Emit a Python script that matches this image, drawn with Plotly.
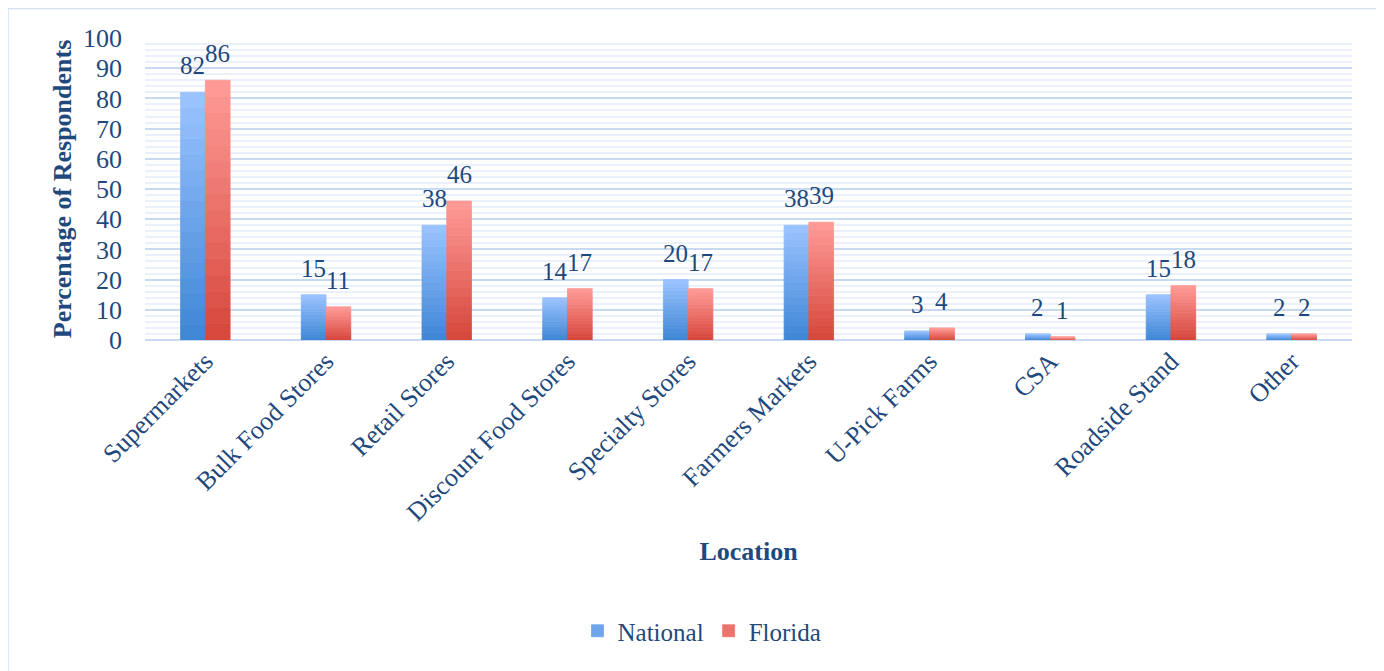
import plotly.graph_objects as go

categories = ["Supermarkets", "Bulk Food Stores", "Retail Stores", "Discount Food Stores",
              "Specialty Stores", "Farmers Markets", "U-Pick Farms", "CSA",
              "Roadside Stand", "Other"]
national = [82, 15, 38, 14, 20, 38, 3, 2, 15, 2]
florida = [86, 11, 46, 17, 17, 39, 4, 1, 18, 2]

TEXT = "#1F497D"
FONT = "Liberation Serif"
N = 16
BW = 0.205  # bar width in category units

# page body has an 8px margin, so the figure is shifted by 8px
W, H = 1376, 663
L, T = 137, 30
PW, PH = 1207, 302
cat_px = PW / len(categories)


def lerp(c1, c2, t):
    return "rgb(%d,%d,%d)" % tuple(round(a + (b - a) * t) for a, b in zip(c1, c2))


series = [
    ("National", national, (61, 133, 213), (156, 196, 255), -BW),
    ("Florida", florida, (214, 69, 58), (255, 156, 152), 0.0),
]

fig = go.Figure()
annotations = []
for name, vals, dark, light, off in series:
    for k in range(N):
        col = lerp(dark, light, (k + 0.5) / N)
        fig.add_trace(go.Bar(
            x=categories,
            y=[v / N for v in vals],
            base=[v * k / N for v in vals],
            width=BW,
            offset=off,
            name=name,
            legendgroup=name,
            showlegend=(k == N // 2),
            marker=dict(color=col, line=dict(width=0.8, color=col)),
            hoverinfo="skip",
        ))
    for c, v in zip(categories, vals):
        annotations.append(dict(
            x=c, y=v, xref="x", yref="y", text=str(v), showarrow=False,
            xanchor="center", yanchor="bottom",
            xshift=(off + BW / 2) * cat_px, yshift=11,
            font=dict(family=FONT, size=25, color=TEXT),
        ))

fig.update_layout(
    width=W, height=H,
    barmode="overlay",
    paper_bgcolor="white", plot_bgcolor="white",
    margin=dict(l=L, r=W - L - PW, t=T, b=H - T - PH),
    font=dict(family=FONT, color=TEXT),
    legend=dict(orientation="h", x=(702 - 8 - L) / PW, xanchor="center",
                y=(T + PH - 623) / PH, yanchor="middle",
                font=dict(family=FONT, size=25, color=TEXT), traceorder="normal",
                itemwidth=30),
    xaxis=dict(
        tickangle=-45, tickfont=dict(family=FONT, size=26, color=TEXT),
        showgrid=False, showline=False, zeroline=False,
        title=dict(text="<b>Location</b>", font=dict(family=FONT, size=26, color=TEXT), standoff=16),
    ),
    yaxis=dict(
        range=[0, 100], dtick=10, tick0=0,
        tickfont=dict(family=FONT, size=26, color=TEXT),
        gridcolor="#C8DAF1", gridwidth=2,
        zeroline=True, zerolinecolor="#C8DAF1", zerolinewidth=2,
        showline=False, ticklabelstandoff=22,
        minor=dict(dtick=2, showgrid=True, gridcolor="#EAF1FA", gridwidth=2),
        title=dict(text="<b>Percentage of Respondents</b>", font=dict(family=FONT, size=26, color=TEXT), standoff=3),
    ),
    annotations=annotations,
    shapes=[dict(type="rect", xref="paper", yref="paper",
                 x0=(0 - L) / PW, x1=(W + 20 - L) / PW,
                 y0=(T + PH - H - 20) / PH, y1=(T + PH - 0.5) / PH,
                 line=dict(color="#D3E1F3", width=1.5), layer="below")],
)

fig.write_html("out.html")
